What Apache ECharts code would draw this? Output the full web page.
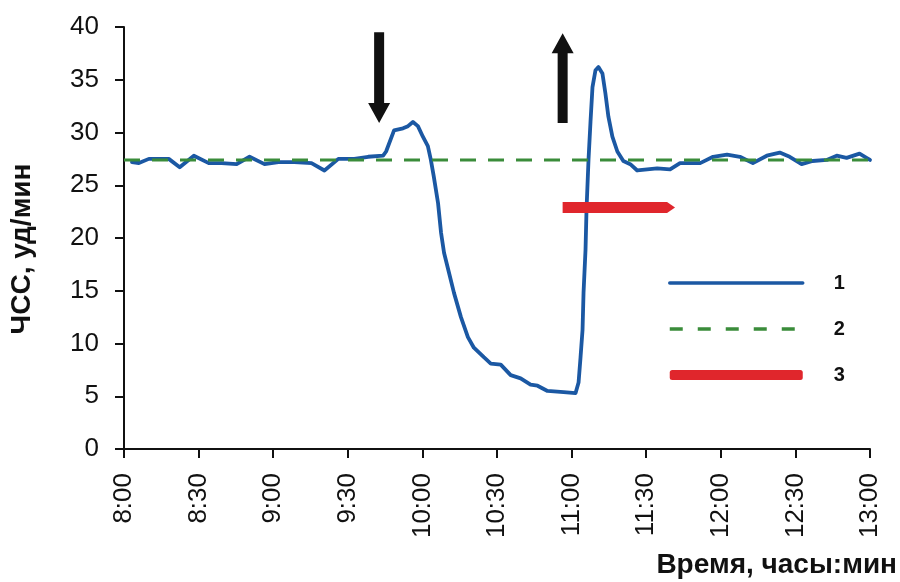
<!DOCTYPE html>
<html>
<head>
<meta charset="utf-8">
<script src="https://cdn.jsdelivr.net/npm/echarts@6/dist/echarts.min.js"></script>
<style>
  html, body { margin: 0; padding: 0; background: #fff; }
  #chart { width: 900px; height: 582px; }
</style>
</head>
<body>
<div id="chart"></div>
<script>
// Time is stored as minutes after 8:00
const tickLabels = ['8:00', '8:30', '9:00', '9:30', '10:00', '10:30', '11:00', '11:30', '12:00', '12:30', '13:00'];

// Heart rate trace (series 1): [minutes, beats/min]
const hrMinutes = [3.2, 6.0, 10.0, 18.0, 22.4, 28.1, 34.1, 39.3, 45.3, 50.5, 56.5, 62.1, 68.5, 75.4, 80.6, 86.2, 92.6, 98.2, 104.2, 105.4, 108.6, 112.2, 114.2, 116.2, 118.2, 120.2, 122.2, 123.4, 124.6, 126.3, 127.5, 128.7, 130.7, 132.7, 135.5, 138.3, 140.7, 144.7, 147.5, 151.5, 155.5, 159.5, 163.5, 166.3, 170.3, 176.8, 181.6, 182.8, 183.6, 184.4, 184.8, 185.6, 186.0, 186.8, 187.6, 188.4, 189.6, 190.8, 192.4, 193.6, 194.8, 196.4, 198.4, 200.8, 203.6, 206.4, 210.4, 214.4, 219.6, 223.6, 231.7, 236.9, 242.5, 247.7, 252.9, 258.5, 263.7, 267.7, 272.5, 276.9, 282.6, 286.6, 290.6, 295.8, 298.6, 300.0];
const hrValues = [27.2, 27.1, 27.5, 27.5, 26.7, 27.8, 27.1, 27.1, 27.0, 27.7, 27.0, 27.2, 27.2, 27.1, 26.4, 27.5, 27.5, 27.7, 27.8, 28.2, 30.2, 30.4, 30.6, 31.0, 30.6, 29.6, 28.7, 27.4, 25.8, 23.3, 20.5, 18.6, 16.7, 14.8, 12.5, 10.6, 9.6, 8.7, 8.1, 8.0, 7.0, 6.7, 6.1, 6.0, 5.5, 5.4, 5.3, 6.3, 8.7, 11.3, 14.8, 18.9, 22.7, 27.4, 31.0, 34.3, 35.9, 36.2, 35.6, 33.7, 31.5, 29.6, 28.2, 27.3, 27.0, 26.4, 26.5, 26.6, 26.5, 27.1, 27.1, 27.7, 27.9, 27.7, 27.1, 27.8, 28.1, 27.7, 27.0, 27.3, 27.4, 27.8, 27.6, 28.0, 27.6, 27.4];

// Baseline level (series 2)
const baselineMinutes = [0, 300];
const baselineValue = 27.4;

// Period bar (series 3): start, end, level
const periodBar = [176.4, 221.6, 22.9];

// Event arrows: [minutes, tail value, tip value]
const eventArrows = [
  [102.6, 39.5, 30.9],
  [176.4, 30.9, 39.4]
];

const FONT = '"Liberation Sans", Arial, sans-serif';
const BLUE = '#1b58a3';
const GREEN = '#3a8c3a';
const RED = '#e0262c';

const chart = echarts.init(document.getElementById('chart'));

chart.setOption({
  animation: false,
  backgroundColor: '#ffffff',
  grid: { left: 121, right: 29, top: 27, bottom: 133 },
  legend: {
    data: [
      { name: '1', itemStyle: { opacity: 0 }, lineStyle: { width: 3.5 } },
      { name: '2', itemStyle: { opacity: 0 }, lineStyle: { width: 3.5, type: [13, 15] } },
      { name: '3' }
    ],
    orient: 'vertical',
    left: 663,
    top: 268,
    itemWidth: 133,
    itemHeight: 10,
    itemGap: 26,
    selectedMode: false,
    textStyle: { fontFamily: FONT, fontWeight: 'bold', fontSize: 20, color: '#111', padding: [0, 0, 0, 26] }
  },
  xAxis: {
    type: 'value',
    min: 0,
    max: 300,
    interval: 30,
    name: 'Время, часы:мин',
    nameLocation: 'end',
    nameGap: 27,
    nameTextStyle: {
      fontFamily: FONT, fontWeight: 'bold', fontSize: 28, color: '#111',
      align: 'right', verticalAlign: 'top', padding: [102, 0, 0, 0]
    },
    splitLine: { show: false },
    axisLine: { onZero: false, lineStyle: { color: '#111', width: 2 } },
    axisTick: { show: true, length: 9, lineStyle: { color: '#111', width: 2 } },
    axisLabel: {
      rotate: 90,
      margin: 24,
      fontFamily: FONT,
      fontSize: 26,
      color: '#111',
      formatter: v => tickLabels[Math.round(v / 30)]
    }
  },
  yAxis: {
    type: 'value',
    min: 0,
    max: 40,
    interval: 5,
    name: 'ЧСС, уд/мин',
    nameLocation: 'middle',
    nameGap: 88,
    nameTextStyle: {
      fontFamily: FONT, fontWeight: 'bold', fontSize: 28, color: '#111',
      padding: [0, 22, 0, 0]
    },
    splitLine: { show: false },
    axisLine: { show: true, lineStyle: { color: '#111', width: 2 } },
    axisTick: { show: true, length: 9, lineStyle: { color: '#111', width: 2 } },
    axisLabel: { margin: 25, fontFamily: FONT, fontSize: 26, color: '#111' }
  },
  series: [
    {
      name: '1',
      type: 'line',
      data: hrMinutes.map((t, i) => [t, hrValues[i]]),
      showSymbol: false,
      symbol: 'none',
      color: BLUE,
      lineStyle: { color: BLUE, width: 3.8, cap: 'round', join: 'round' },
      z: 2
    },
    {
      name: '2',
      type: 'line',
      data: baselineMinutes.map(t => [t, baselineValue]),
      showSymbol: false,
      symbol: 'none',
      color: GREEN,
      lineStyle: { color: GREEN, width: 3, type: [16, 12] },
      z: 3
    },
    {
      name: '3',
      type: 'custom',
      data: [periodBar],
      encode: { x: [0, 1], y: 2 },
      itemStyle: { color: RED },
      renderItem: (params, api) => {
        const a = api.coord([api.value(0), api.value(2)]);
        const b = api.coord([api.value(1), api.value(2)]);
        const h = 5.5, tip = 8;
        return {
          type: 'polygon',
          shape: { points: [[a[0], a[1] - h], [b[0] - tip, a[1] - h], [b[0], a[1]], [b[0] - tip, a[1] + h], [a[0], a[1] + h]] },
          style: { fill: RED }
        };
      },
      z: 4
    },
    {
      name: 'arrows',
      type: 'custom',
      data: eventArrows,
      encode: { x: 0, y: [1, 2] },
      renderItem: (params, api) => {
        const tail = api.coord([api.value(0), api.value(1)]);
        const tipP = api.coord([api.value(0), api.value(2)]);
        const dir = tipP[1] > tail[1] ? 1 : -1;
        const x = tail[0];
        const sw = 5, hw = 11, hl = 20;
        const base = tipP[1] - dir * hl;
        return {
          type: 'polygon',
          shape: { points: [[x - sw, tail[1]], [x + sw, tail[1]], [x + sw, base], [x + hw, base], [x, tipP[1]], [x - hw, base], [x - sw, base]] },
          style: { fill: '#111111' }
        };
      },
      z: 4
    }
  ]
});
</script>
</body>
</html>
